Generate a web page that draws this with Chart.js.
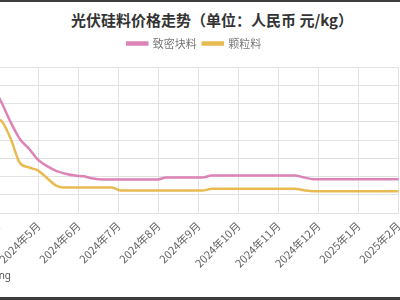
<!DOCTYPE html>
<html>
<head>
<meta charset="utf-8">
<script src="https://cdn.jsdelivr.net/npm/chart.js@4"></script>
<style>
    html, body { margin: 0; padding: 0; background: #fff; }
    #wrap { position: relative; width: 400px; height: 300px; overflow: hidden; background: #fff; }
    #title {
        position: absolute; left: 0; top: 9px; width: 424px; text-align: center;
        font: bold 15px "Noto Sans CJK SC", sans-serif; color: #333; line-height: 22px;
    }
    #source {
        position: absolute; right: 389px; top: 268px; white-space: nowrap;
        font: 10px "Noto Sans", sans-serif; color: #555;
    }
    #chartBox { position: absolute; left: -40px; top: 0; width: 440px; height: 300px; }
    .band { position: absolute; left: 0; width: 400px; background: #3d3d3d; }
</style>
</head>
<body>
<div id="wrap">
    <div class="band" style="top:0;height:2px"></div>
    <div id="title">光伏硅料价格走势（单位：人民币 元/kg）</div>
    <div id="chartBox"><canvas id="priceChart"></canvas></div>
    <div id="source">数据来源：InfoLink Consulting</div>
    <div class="band" style="top:297px;height:3px"></div>
</div>
<script>
// weekly price dates
const dates = [
    "2024-03-27", "2024-04-03", "2024-04-10", "2024-04-17", "2024-04-24",
    "2024-05-01", "2024-05-08", "2024-05-15", "2024-05-22", "2024-05-29",
    "2024-06-05", "2024-06-12", "2024-06-19", "2024-06-26",
    "2024-07-03", "2024-07-10", "2024-07-17", "2024-07-24", "2024-07-31",
    "2024-08-07", "2024-08-14", "2024-08-21", "2024-08-28",
    "2024-09-04", "2024-09-11", "2024-09-18", "2024-09-25",
    "2024-10-02", "2024-10-09", "2024-10-16", "2024-10-23", "2024-10-30",
    "2024-11-06", "2024-11-13", "2024-11-20", "2024-11-27",
    "2024-12-04", "2024-12-11", "2024-12-18", "2024-12-25",
    "2025-01-01", "2025-01-08", "2025-01-15", "2025-01-22", "2025-01-29",
    "2025-02-05"
];

// 致密块料
const densePrices = [
    65.0, 60.5, 55.0, 50.3, 47.6,
    44.5, 42.8, 41.5, 40.8, 40.3,
    40.1, 39.5, 39.2, 39.2,
    39.2, 39.2, 39.2, 39.2, 39.2,
    39.8, 39.8, 39.8, 39.8,
    39.8, 40.3, 40.3, 40.3,
    40.3, 40.3, 40.3, 40.3, 40.3,
    40.3, 40.3, 39.8, 39.3,
    39.3, 39.3, 39.3, 39.3,
    39.3, 39.3, 39.3, 39.3, 39.3,
    39.3
];

// 颗粒料
const granularPrices = [
    56.0, 55.3, 50.5, 43.8, 42.5,
    41.6, 39.5, 37.5, 37.0, 37.0,
    37.0, 37.0, 37.0, 37.0,
    36.2, 36.2, 36.2, 36.2, 36.2,
    36.2, 36.2, 36.2, 36.2,
    36.2, 36.7, 36.7, 36.7,
    36.7, 36.7, 36.7, 36.7, 36.7,
    36.7, 36.7, 36.3, 36.0,
    36.0, 36.0, 36.0, 36.0,
    36.0, 36.0, 36.0, 36.0, 36.0,
    36.0
];

const monthLabels = [
    "2024年4月", "2024年5月", "2024年6月", "2024年7月", "2024年8月", "2024年9月",
    "2024年10月", "2024年11月", "2024年12月", "2025年1月", "2025年2月"
];

// date -> months since 2024-04-01 (fractional)
function monthPos(s) {
    const [y, m, d] = s.split("-").map(Number);
    const days = new Date(y, m, 0).getDate();
    return (y - 2024) * 12 + (m - 4) + (d - 1) / days;
}

const toPoints = vals => dates.map((d, i) => ({ x: monthPos(d), y: vals[i] }));

// make the legend block a bit taller
const legendSpacer = {
    id: "legendSpacer",
    beforeInit(chart) {
        const fit = chart.legend.fit;
        chart.legend.fit = function () {
            fit.bind(chart.legend)();
            this.height += 8;
        };
    }
};

const chart = new Chart(document.getElementById("priceChart"), {
    type: "line",
    data: {
        datasets: [
            {
                label: "致密块料",
                data: toPoints(densePrices),
                borderColor: "#dc84b6",
                backgroundColor: "#dc84b6",
                borderWidth: 2.5,
                pointRadius: 0,
                cubicInterpolationMode: "monotone"
            },
            {
                label: "颗粒料",
                data: toPoints(granularPrices),
                borderColor: "#e8bb52",
                backgroundColor: "#e8bb52",
                borderWidth: 2.5,
                pointRadius: 0,
                cubicInterpolationMode: "monotone"
            }
        ]
    },
    options: {
        responsive: true,
        maintainAspectRatio: false,
        animation: false,
        layout: { padding: { left: 30, right: 1.5, top: 32, bottom: 24 } },
        plugins: {
            title: { display: false },
            tooltip: { enabled: false },
            legend: {
                position: "top",
                labels: {
                    boxWidth: 20,
                    boxHeight: 2,
                    padding: 6,
                    color: "#777",
                    font: { family: "'Noto Sans CJK SC'", size: 11 }
                }
            }
        },
        scales: {
            x: {
                type: "linear",
                min: -0.2125,
                max: 10,
                afterBuildTicks(scale) {
                    scale.ticks = monthLabels.map((_, i) => ({ value: i }));
                },
                afterFit(scale) {
                    scale.paddingLeft = 0;
                    scale.paddingRight = 0;
                },
                ticks: {
                    stepSize: 1,
                    autoSkip: false,
                    minRotation: 45,
                    maxRotation: 45,
                    padding: 6,
                    color: "#666",
                    font: { family: "'Noto Sans CJK SC'", size: 11 },
                    callback: v => monthLabels[v] || ""
                },
                grid: { color: "#e2e2e2", drawTicks: false },
                border: { color: "#e2e2e2" }
            },
            y: {
                min: 30,
                max: 70,
                ticks: { stepSize: 5, display: false },
                grid: { color: "#e2e2e2", drawTicks: false },
                border: { display: false }
            }
        }
    },
    plugins: [legendSpacer]
});
</script>
</body>
</html>
